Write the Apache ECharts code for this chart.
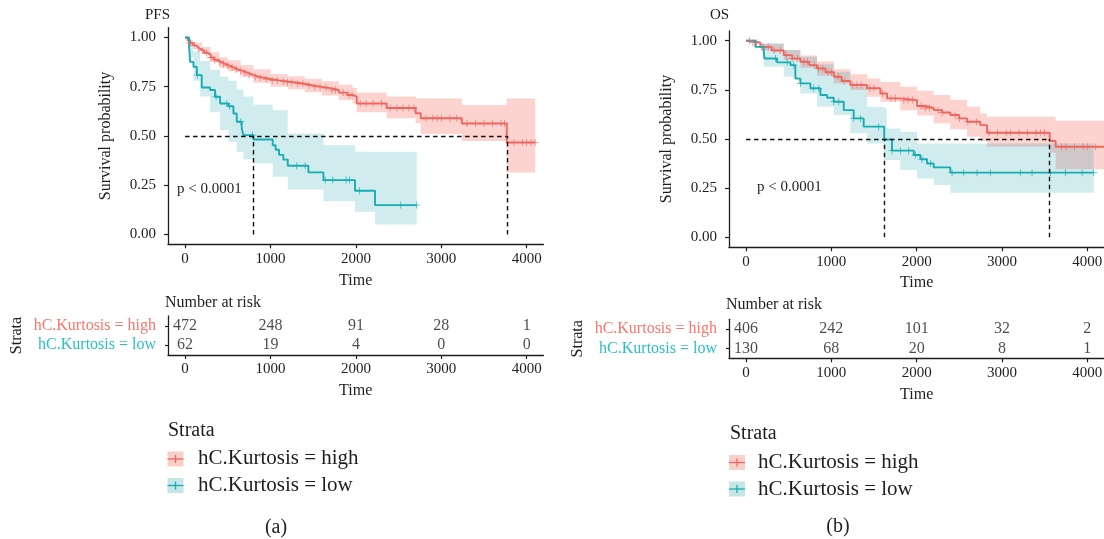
<!DOCTYPE html>
<html>
<head>
<meta charset="utf-8">
<script src="https://cdn.jsdelivr.net/npm/echarts@6/dist/echarts.min.js"></script>
<style>
  html, body { margin: 0; padding: 0; background: #fff; }
  #main { width: 1104px; height: 539px; }
</style>
</head>
<body>
<div id="main"></div>
<script>
// ---- data ----
var strata = ['hC.Kurtosis = high', 'hC.Kurtosis = low'];
var timeTicks = [0, 1000, 2000, 3000, 4000];
var survTicks = [0, 0.25, 0.5, 0.75, 1];

// (a) PFS, high
var pfsHighTime = [0,30,60,90,120,150,180,220,260,300,340,380,420,470,520,570,620,680,740,800,870,940,1010,1100,1200,1300,1400,1500,1600,1700,1800,1900,1960,2010,2360,2700,2760,3240,3766,4098];
var pfsHighSurv = [1,0.985,0.972,0.96,0.95,0.942,0.934,0.922,0.912,0.898,0.886,0.876,0.866,0.857,0.848,0.838,0.83,0.82,0.81,0.8,0.795,0.788,0.782,0.777,0.771,0.765,0.756,0.749,0.743,0.733,0.72,0.708,0.699,0.665,0.642,0.615,0.59,0.563,0.467,0.467];
var pfsHighBandTime = [0,100,200,300,400,500,650,800,1000,1200,1400,1600,1800,1960,2010,2360,2700,2760,3240,3766,4098];
var pfsHighUpper = [1,0.975,0.952,0.925,0.9,0.884,0.86,0.838,0.815,0.803,0.79,0.778,0.76,0.745,0.72,0.70,0.69,0.69,0.657,0.69,0.69];
var pfsHighLower = [1,0.955,0.915,0.875,0.845,0.828,0.8,0.77,0.75,0.737,0.722,0.705,0.682,0.665,0.62,0.59,0.565,0.51,0.475,0.315,0.315];
var pfsHighCensor = [60,110,160,200,250,300,350,400,450,500,550,600,650,700,750,820,880,950,1020,1080,1150,1200,1250,1320,1380,1450,1520,1580,1650,1720,1760,1850,1920,1955,2050,2120,2200,2300,2400,2480,2550,2620,2680,2820,2900,2950,3000,3100,3180,3300,3400,3500,3600,3700,3740,3850,3950,4000,4050,4098];

// (a) PFS, low
var pfsLowTime = [0,47,59,98,137,195,293,351,410,507,566,605,663,683,800,1026,1060,1100,1150,1202,1444,1620,1990,2224,2712];
var pfsLowSurv = [1,0.953,0.876,0.851,0.809,0.746,0.733,0.699,0.665,0.651,0.614,0.572,0.538,0.504,0.482,0.453,0.43,0.404,0.38,0.349,0.315,0.276,0.222,0.149,0.149];
var pfsLowBandTime = [0,47,98,176,293,410,507,605,683,800,1026,1202,1444,1620,1990,2224,2712];
var pfsLowUpper = [1,0.99,0.93,0.88,0.835,0.80,0.78,0.735,0.70,0.66,0.631,0.513,0.513,0.453,0.42,0.42,0.42];
var pfsLowLower = [1,0.9,0.78,0.70,0.62,0.53,0.47,0.42,0.38,0.36,0.293,0.228,0.228,0.169,0.115,0.051,0.051];
var pfsLowCensor = [144,363,488,519,652,790,1307,1405,1640,1729,1885,1924,2041,2525,2712];

// (b) OS, high
var osHighTime = [0,60,168,300,442,540,637,740,832,930,1028,1120,1223,1419,1575,1653,1809,2005,2100,2200,2300,2395,2500,2591,2747,2825,3560,3630,4200];
var osHighSurv = [1,0.99,0.969,0.95,0.927,0.91,0.893,0.876,0.859,0.84,0.817,0.795,0.775,0.758,0.732,0.707,0.698,0.668,0.658,0.647,0.635,0.622,0.605,0.588,0.571,0.532,0.49,0.461,0.461];
var osHighBandTime = [0,168,442,637,832,1028,1223,1419,1575,1809,2005,2200,2395,2591,2747,2825,3560,3630,4200];
var osHighUpper = [1,0.985,0.953,0.925,0.895,0.855,0.83,0.808,0.79,0.766,0.745,0.724,0.70,0.664,0.63,0.614,0.614,0.593,0.593];
var osHighLower = [1,0.95,0.902,0.862,0.822,0.783,0.75,0.715,0.69,0.647,0.62,0.58,0.55,0.512,0.49,0.461,0.43,0.346,0.346];
var osHighCensor = [40,80,120,200,260,330,400,470,540,600,680,720,800,850,900,960,1000,1080,1150,1250,1300,1350,1450,1500,1600,1700,1750,1850,1900,1950,2050,2100,2150,2250,2300,2450,2500,2600,2700,2850,2950,3050,3100,3200,3300,3400,3450,3500,3700,3750,3850,3950,4000,4100];

// (b) OS, low
var osLowTime = [0,109,207,215,363,520,578,637,754,871,950,1028,1145,1262,1379,1620,1711,1966,2044,2122,2200,2395,4076];
var osLowSurv = [1,0.969,0.949,0.91,0.89,0.876,0.808,0.783,0.758,0.724,0.71,0.69,0.647,0.605,0.563,0.498,0.441,0.419,0.397,0.376,0.356,0.329,0.329];
var osLowBandTime = [0,207,442,637,832,1028,1223,1419,1620,1650,1809,2005,2200,2395,4076];
var osLowUpper = [1,0.986,0.953,0.919,0.88,0.842,0.766,0.664,0.656,0.554,0.537,0.478,0.478,0.478,0.478];
var osLowLower = [1,0.868,0.817,0.732,0.664,0.622,0.529,0.478,0.393,0.393,0.342,0.30,0.266,0.227,0.227];
var osLowCensor = [188,344,481,559,637,793,852,1028,1086,1262,1340,1555,1711,1809,1907,1985,2063,2161,2415,2552,2708,2864,3216,3353,3568,3744,3940,4076];

// medians (high, low)
var pfsMedians = [3766, 800];
var osMedians = [3560, 1622];

// number at risk
var riskTimes = [0, 1000, 2000, 3000, 4000];
var pfsRiskHigh = [472, 248, 91, 28, 1];
var pfsRiskLow = [62, 19, 4, 0, 0];
var osRiskHigh = [406, 242, 101, 32, 2];
var osRiskLow = [130, 68, 20, 8, 1];

// ---- styling ----
var FONT = 'Liberation Serif';
var INK = '#1e1e1e';
var RED = '#EF6760';
var TEAL = '#17ADB2';
var RED_BAND = 'rgba(248,118,109,0.32)';
var TEAL_BAND = 'rgba(25,160,170,0.2)';
var RED_LABEL = '#F8766D';
var TEAL_LABEL = '#2CBFC3';

var chart = echarts.init(document.getElementById('main'));

function pairs(times, vals) {
  return times.map(function (t, i) { return [t, vals[i]]; });
}

// survival value of a step curve at time t
function stepAt(times, surv, t) {
  var s = surv[0];
  for (var i = 0; i < times.length; i++) {
    if (times[i] <= t) s = surv[i]; else break;
  }
  return s;
}

function curveSeries(idx, times, surv, color, medians) {
  var s = {
    type: 'line', xAxisIndex: idx, yAxisIndex: idx,
    data: pairs(times, surv), step: 'end', showSymbol: false, z: 3,
    lineStyle: { color: color, width: 1.9 }, silent: true
  };
  if (medians) {
    var far = Math.max.apply(null, medians);
    var lines = [[{ coord: [0, 0.5] }, { coord: [far, 0.5] }]];
    medians.forEach(function (m) {
      lines.push([{ coord: [m, 0] }, { coord: [m, 0.5] }]);
    });
    s.markLine = {
      silent: true, symbol: ['none', 'none'], label: { show: false },
      lineStyle: { type: [4.5, 3.5], color: '#111', width: 1.4 },
      emphasis: { disabled: true }, animation: false, data: lines
    };
  }
  return s;
}

function bandSeries(idx, times, upper, lower, color) {
  return {
    type: 'custom', xAxisIndex: idx, yAxisIndex: idx, silent: true, z: 1, clip: true,
    data: [[times[0], upper[0]]],
    renderItem: function (params, api) {
      var top = [], bot = [];
      for (var i = 0; i < times.length; i++) {
        var next = i < times.length - 1 ? times[i + 1] : times[i];
        top.push(api.coord([times[i], upper[i]]), api.coord([next, upper[i]]));
        bot.push(api.coord([times[i], lower[i]]), api.coord([next, lower[i]]));
      }
      return { type: 'polygon', shape: { points: top.concat(bot.reverse()) }, style: { fill: color } };
    }
  };
}

function censorSeries(idx, censor, times, surv, color) {
  return {
    type: 'scatter', xAxisIndex: idx, yAxisIndex: idx, silent: true, z: 4,
    symbol: 'path://M-0.6,-5H0.6V-0.6H5V0.6H0.6V5H-0.6V0.6H-5V-0.6H-0.6Z',
    symbolSize: 7,
    itemStyle: { color: color },
    data: censor.map(function (t) { return [t, stepAt(times, surv, t)]; })
  };
}

function riskSeries(idx, high, low) {
  var d = [];
  riskTimes.forEach(function (t, i) {
    d.push([t, strata[0], high[i]]);
    d.push([t, strata[1], low[i]]);
  });
  return {
    type: 'scatter', xAxisIndex: idx, yAxisIndex: idx, silent: true,
    symbolSize: 1, itemStyle: { color: 'rgba(0,0,0,0)' },
    label: {
      show: true, position: 'inside', fontFamily: FONT, fontSize: 16, color: INK,
      formatter: function (p) { return String(p.value[2]); }
    },
    data: d
  };
}

function timeAxis(idx, xMax) {
  return {
    type: 'value', gridIndex: idx, min: -200, max: xMax,
    name: 'Time', nameLocation: 'middle', nameGap: 28,
    nameTextStyle: { fontFamily: FONT, fontSize: 16, color: INK },
    axisLine: { show: true, onZero: false, lineStyle: { color: INK, width: 1.3 } },
    axisTick: { show: true, length: 4, customValues: timeTicks, lineStyle: { color: INK, width: 1.2 } },
    axisLabel: {
      customValues: timeTicks, margin: 7, fontFamily: FONT, fontSize: 15, color: INK,
      formatter: function (v) { return String(v); }
    },
    splitLine: { show: false }
  };
}

function survAxis(idx) {
  return {
    type: 'value', gridIndex: idx, min: -0.05, max: 1.05,
    name: 'Survival probability', nameLocation: 'middle', nameGap: 54,
    nameTextStyle: { fontFamily: FONT, fontSize: 16, color: INK },
    axisLine: { show: true, onZero: false, lineStyle: { color: INK, width: 1.3 } },
    axisTick: { show: true, length: 4, customValues: survTicks, lineStyle: { color: INK, width: 1.2 } },
    axisLabel: {
      customValues: survTicks, margin: 12, fontFamily: FONT, fontSize: 15, color: INK,
      formatter: function (v) { return v.toFixed(2); }
    },
    splitLine: { show: false }
  };
}

function strataAxis(idx) {
  return {
    type: 'category', gridIndex: idx, data: strata, inverse: true,
    name: 'Strata', nameLocation: 'middle', nameGap: 143,
    nameTextStyle: { fontFamily: FONT, fontSize: 16, color: INK },
    axisLine: { show: true, onZero: false, lineStyle: { color: INK, width: 1.3 } },
    axisTick: { show: true, alignWithLabel: true, interval: 0, length: 3, lineStyle: { color: INK, width: 1.2 } },
    axisLabel: {
      interval: 0, margin: 12, fontFamily: FONT, fontSize: 16,
      color: function (v) { return v === strata[0] ? RED_LABEL : TEAL_LABEL; }
    },
    splitLine: { show: false }
  };
}

function txt(x, y, text, size, align) {
  return {
    type: 'text', x: x, y: y, silent: true,
    style: { text: text, fontFamily: FONT, fontSize: size, fill: INK, align: align || 'left', verticalAlign: 'middle' }
  };
}

function legendKey(x, y, band, line) {
  return [
    { type: 'rect', silent: true, shape: { x: x, y: y - 7.5, width: 16, height: 15 }, style: { fill: band } },
    { type: 'line', silent: true, shape: { x1: x, y1: y, x2: x + 16, y2: y }, style: { stroke: line, lineWidth: 1.3 } },
    { type: 'line', silent: true, shape: { x1: x + 8, y1: y - 4, x2: x + 8, y2: y + 4 }, style: { stroke: line, lineWidth: 1.3 } }
  ];
}

var titleStyle = { fontFamily: FONT, fontWeight: 'normal', color: INK };

var option = {
  animation: false,
  backgroundColor: '#fff',
  title: [
    { text: 'PFS', left: 145, top: 8, padding: 0, textStyle: Object.assign({ fontSize: 15 }, titleStyle) },
    { text: 'OS', left: 710, top: 8, padding: 0, textStyle: Object.assign({ fontSize: 15 }, titleStyle) },
    { text: 'Number at risk', left: 165, top: 295, padding: 0, textStyle: Object.assign({ fontSize: 16 }, titleStyle) },
    { text: 'Number at risk', left: 726, top: 297, padding: 0, textStyle: Object.assign({ fontSize: 16 }, titleStyle) }
  ],
  grid: [
    { left: 168, top: 27.6, width: 375.4, height: 216.7, outerBoundsMode: 'none' },
    { left: 729, top: 30.9, width: 375.3, height: 216.3, outerBoundsMode: 'none' },
    { left: 168, top: 316, width: 375.4, height: 39, outerBoundsMode: 'none' },
    { left: 729, top: 319.3, width: 375.3, height: 39, outerBoundsMode: 'none' }
  ],
  xAxis: [timeAxis(0, 4195), timeAxis(1, 4200), timeAxis(2, 4195), timeAxis(3, 4200)],
  yAxis: [survAxis(0), survAxis(1), strataAxis(2), strataAxis(3)],
  series: [
    bandSeries(0, pfsHighBandTime, pfsHighUpper, pfsHighLower, RED_BAND),
    bandSeries(0, pfsLowBandTime, pfsLowUpper, pfsLowLower, TEAL_BAND),
    curveSeries(0, pfsHighTime, pfsHighSurv, RED, pfsMedians),
    curveSeries(0, pfsLowTime, pfsLowSurv, TEAL),
    censorSeries(0, pfsHighCensor, pfsHighTime, pfsHighSurv, RED),
    censorSeries(0, pfsLowCensor, pfsLowTime, pfsLowSurv, TEAL),

    bandSeries(1, osHighBandTime, osHighUpper, osHighLower, RED_BAND),
    bandSeries(1, osLowBandTime, osLowUpper, osLowLower, TEAL_BAND),
    curveSeries(1, osHighTime, osHighSurv, RED, osMedians),
    curveSeries(1, osLowTime, osLowSurv, TEAL),
    censorSeries(1, osHighCensor, osHighTime, osHighSurv, RED),
    censorSeries(1, osLowCensor, osLowTime, osLowSurv, TEAL),

    riskSeries(2, pfsRiskHigh, pfsRiskLow),
    riskSeries(3, osRiskHigh, osRiskLow)
  ],
  graphic: [
    txt(177, 189, 'p < 0.0001', 15),
    txt(757, 187, 'p < 0.0001', 15),
    txt(168, 431, 'Strata', 20),
    txt(198, 458.5, strata[0], 21),
    txt(198, 485.5, strata[1], 21),
    txt(730, 434, 'Strata', 20),
    txt(758, 462.5, strata[0], 21),
    txt(758, 489, strata[1], 21),
    txt(276, 528, '(a)', 20, 'center'),
    txt(838, 527, '(b)', 20, 'center')
  ]
    .concat(legendKey(167.5, 459, '#F9CFCA', RED))
    .concat(legendKey(167.5, 485.5, '#C6E5E7', TEAL))
    .concat(legendKey(729, 462.5, '#F9CFCA', RED))
    .concat(legendKey(729, 489, '#C6E5E7', TEAL))
};

chart.setOption(option);
</script>
</body>
</html>
